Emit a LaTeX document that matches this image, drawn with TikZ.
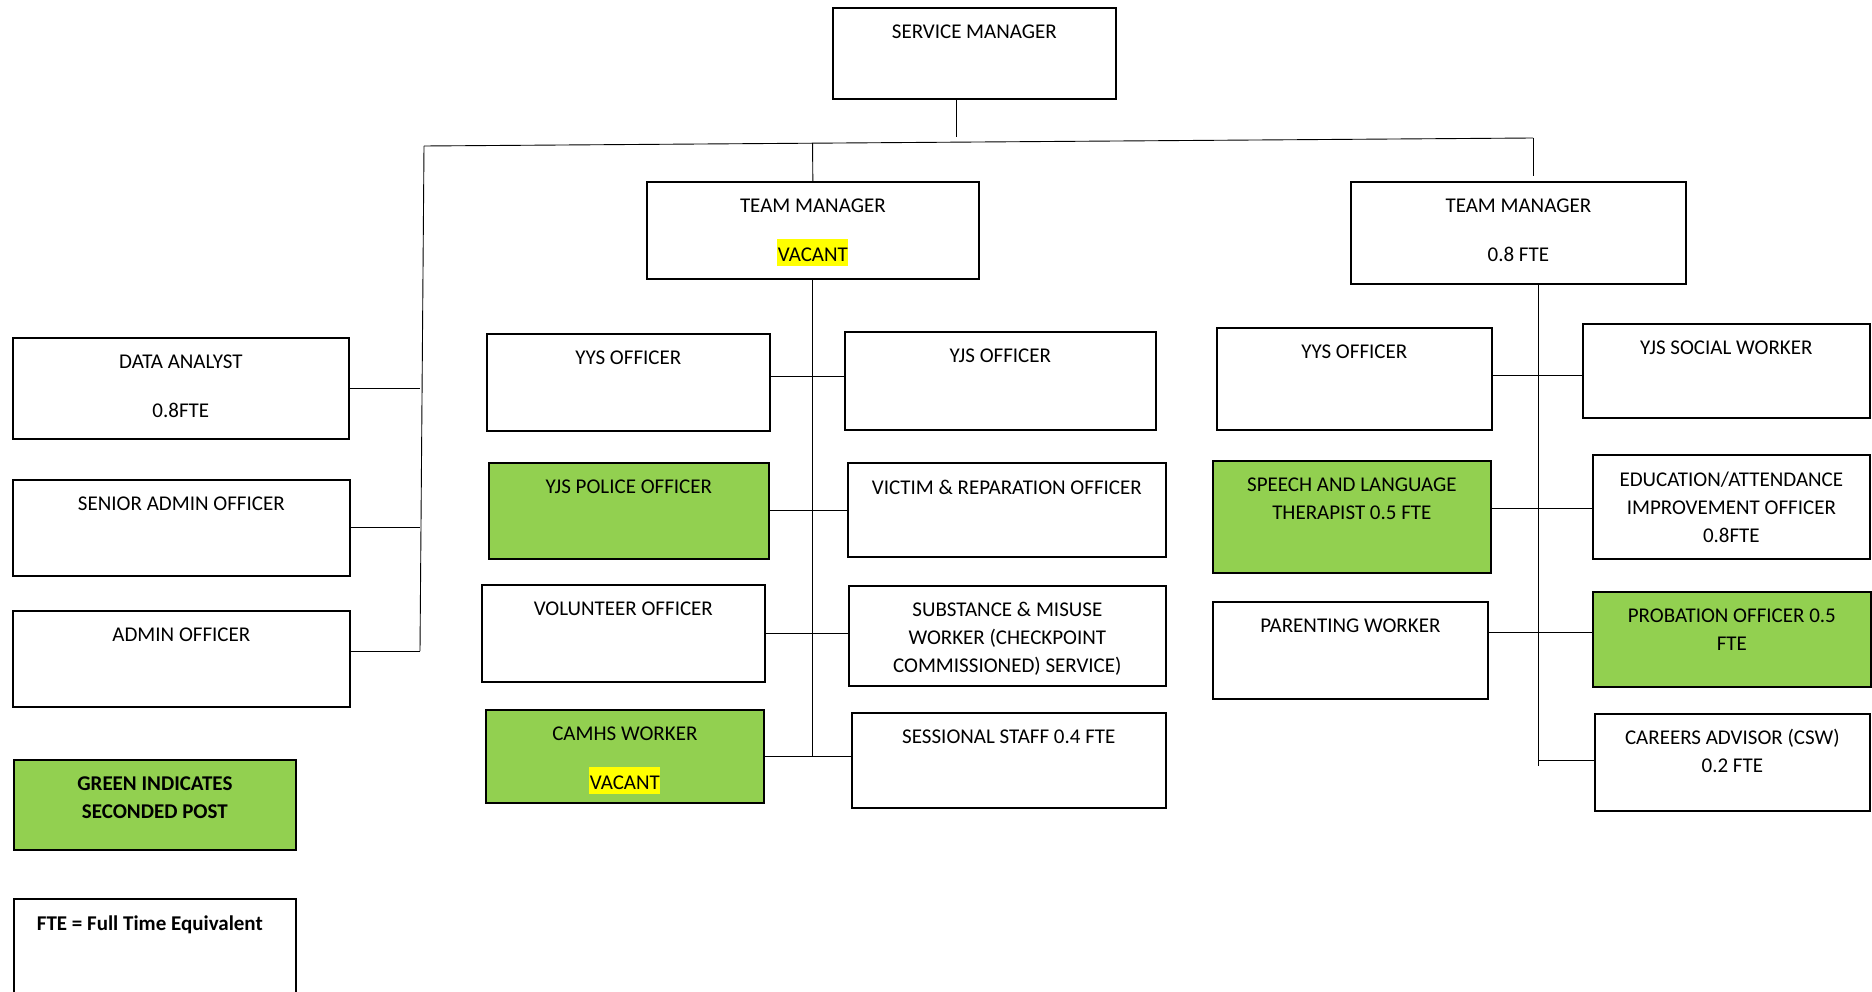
\documentclass[tikz,border=0pt]{standalone}
\usepackage{fontspec}
\setmainfont{Carlito}
\usetikzlibrary{calc}
\definecolor{seconded}{HTML}{92D050}
\definecolor{marker}{HTML}{FFFF00}
\newcommand{\vacanthl}{{\setlength{\fboxsep}{0.5pt}\colorbox{marker}{\rule[-4pt]{0pt}{26pt}VACANT}}}
\tikzstyle{post} = [rectangle, draw, line width=1.7pt, anchor=north west, inner sep=0pt]
\tikzstyle{secpost} = [post, fill=seconded]
\tikzstyle{title} = [anchor=north, align=center, inner sep=0pt, yshift=-18pt, font=\fontsize{21}{28}\selectfont]
\tikzstyle{connector} = [line width=0.9pt]

\begin{document}
\begin{tikzpicture}[x=1pt, y=-1pt]
\useasboundingbox (0,0) rectangle (1872,992);
\node (sm) [post, minimum width=283pt, minimum height=91pt, label={[title]above:SERVICE MANAGER}] at (832,7) {};
\node (tm1) [post, minimum width=332pt, minimum height=97pt, label={[title]above:TEAM MANAGER\\[21pt]\vacanthl}] at (646,181) {};
\node (tm2) [post, minimum width=335pt, minimum height=102pt, label={[title]above:TEAM MANAGER\\[21pt]0.8 FTE}] at (1350,181) {};
\node (da) [post, minimum width=336pt, minimum height=101pt, label={[title]above:DATA ANALYST\\[21pt]0.8FTE}] at (12,337) {};
\node (sao) [post, minimum width=337pt, minimum height=96pt, label={[title]above:SENIOR ADMIN OFFICER}] at (12,479) {};
\node (ao) [post, minimum width=337pt, minimum height=96pt, label={[title]above:ADMIN OFFICER}] at (12,610) {};
\node (yys1) [post, minimum width=283pt, minimum height=97pt, label={[title]above:YYS OFFICER}] at (486,333) {};
\node (pol) [secpost, minimum width=280pt, minimum height=96pt, label={[title]above:YJS POLICE OFFICER}] at (488,462) {};
\node (vol) [post, minimum width=283pt, minimum height=97pt, label={[title]above:VOLUNTEER OFFICER}] at (481,584) {};
\node (cam) [secpost, minimum width=278pt, minimum height=93pt, label={[title]above:CAMHS WORKER\\[21pt]\vacanthl}] at (485,709) {};
\node (yjs1) [post, minimum width=311pt, minimum height=98pt, label={[title]above:YJS OFFICER}] at (844,331) {};
\node (vic) [post, minimum width=318pt, minimum height=94pt, label={[title]above:VICTIM \& REPARATION OFFICER}] at (847,462) {};
\node (sub) [post, minimum width=317pt, minimum height=100pt, label={[title, yshift=1pt]above:SUBSTANCE \& MISUSE\\WORKER (CHECKPOINT\\COMMISSIONED) SERVICE)}] at (848,585) {};
\node (ses) [post, minimum width=314pt, minimum height=95pt, label={[title]above:SESSIONAL STAFF 0.4 FTE}] at (851,712) {};
\node (yys2) [post, minimum width=275pt, minimum height=102pt, label={[title]above:YYS OFFICER}] at (1216,327) {};
\node (sw) [post, minimum width=287pt, minimum height=94pt, label={[title]above:YJS SOCIAL WORKER}] at (1582,323) {};
\node (slt) [secpost, minimum width=278pt, minimum height=112pt, label={[title]above:SPEECH AND LANGUAGE\\THERAPIST 0.5 FTE}] at (1212,460) {};
\node (edu) [post, minimum width=277pt, minimum height=104pt, label={[title]above:EDUCATION/ATTENDANCE\\IMPROVEMENT OFFICER\\0.8FTE}] at (1592,454) {};
\node (par) [post, minimum width=275pt, minimum height=97pt, label={[title]above:PARENTING WORKER}] at (1212,601) {};
\node (prob) [secpost, minimum width=278pt, minimum height=95pt, label={[title]above:PROBATION OFFICER 0.5\\FTE}] at (1592,591) {};
\node (car) [post, minimum width=275pt, minimum height=97pt, label={[title, yshift=2pt]above:CAREERS ADVISOR (CSW)\\0.2 FTE}] at (1594,713) {};
\node (leg1) [secpost, minimum width=282pt, minimum height=90pt, label={[title, font=\fontsize{21}{28}\selectfont\bfseries]above:GREEN INDICATES\\SECONDED POST}] at (13,759) {};
\node (leg2) [post, minimum width=282pt, minimum height=110pt, label={[title, xshift=-5pt, font=\fontsize{21}{28}\selectfont\bfseries]above:FTE = Full Time Equivalent}] at (13,898) {};
\coordinate (barL) at (424,146);
\coordinate (barR) at (1533,138);
\coordinate (smdrop) at (956,137);
\coordinate (spineL) at (420,651);
\coordinate (spineC) at (tm1.south |- cam.east);
\coordinate (spineR) at ([xshift=20pt]tm2.south);
\draw [connector] (barL) -- (barR);
\draw [connector] (sm.south -| smdrop) -- (smdrop);
\draw [connector] (tm1.north) -- ($(barL)!(tm1.north)!(barR)$);
\draw [connector] (barR) -- ($(barR |- tm2.north)+(0,-5)$);
\draw [connector] (barL) -- (spineL);
\draw [connector] (da.east) -- (da.east -| spineL);
\draw [connector] (sao.east) -- (sao.east -| spineL);
\draw [connector] (ao.east |- spineL) -- (spineL);
\draw [connector] (tm1.south) -- (spineC);
\draw [connector] ($(yys1.east)+(0,-6)$) -- ($(yys1.east -| yjs1.west)+(0,-6)$);
\draw [connector] (pol.east) -- (pol.east -| vic.west);
\draw [connector] (vol.east) -- (vol.east -| sub.west);
\draw [connector] (cam.east) -- (cam.east -| ses.west);
\draw [connector] (spineR) -- ($(spineR |- car.west)+(0,4)$);
\draw [connector] ($(yys2.east)+(0,-3)$) -- ($(yys2.east -| sw.west)+(0,-3)$);
\draw [connector] ($(slt.east)+(0,-8)$) -- ($(slt.east -| edu.west)+(0,-8)$);
\draw [connector] ($(par.east)+(0,-18)$) -- ($(par.east -| prob.west)+(0,-18)$);
\draw [connector] ($(car.west)+(0,-2)$) -- ($(car.west -| spineR)+(0,-2)$);
\end{tikzpicture}
\end{document}
